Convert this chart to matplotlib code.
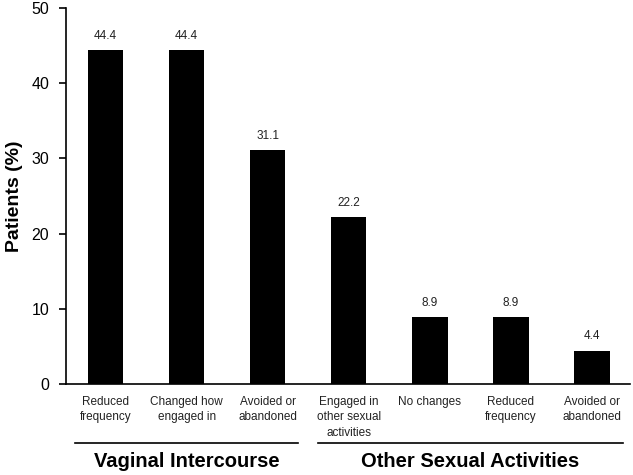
import matplotlib
matplotlib.use("Agg")
import matplotlib.pyplot as plt

categories = ["Reduced\nfrequency", "Changed how\nengaged in", "Avoided or\nabandoned",
              "Engaged in\nother sexual\nactivities", "No changes", "Reduced\nfrequency",
              "Avoided or\nabandoned"]
values = [44.4, 44.4, 31.1, 22.2, 8.9, 8.9, 4.4]
value_labels = ["44.4", "44.4", "31.1", "22.2", "8.9", "8.9", "4.4"]
groups = ["Vaginal Intercourse", "Other Sexual Activities"]
group_spans = [(0, 2), (3, 6)]
yticks = [0, 10, 20, 30, 40, 50]

plt.rcParams['font.family'] = ['Liberation Sans', 'DejaVu Sans']

fig = plt.figure(figsize=(6.33, 4.75), dpi=100)
ax = fig.add_axes([0.104, 0.192, 0.891, 0.791])

x = list(range(len(values)))
ax.bar(x, values, width=0.44, color="black")
for xi, v, lab in zip(x, values, value_labels):
    ax.text(xi, v + 1.1, lab, ha="center", va="bottom", fontsize=8.5, color="#222222")

ax.set_xlim(-0.49, 6.47)
ax.set_ylim(0, 50)
ax.set_yticks(yticks)
ax.tick_params(axis="y", labelsize=11.5, length=5, width=1.2, direction="out", pad=7)
ax.set_xticks(x)
ax.set_xticklabels(categories, fontsize=8.5, color="#222222", linespacing=1.35)
ax.tick_params(axis="x", length=0, pad=9)
for s in ["top", "right"]:
    ax.spines[s].set_visible(False)
for s in ["left", "bottom"]:
    ax.spines[s].set_linewidth(1.2)
ax.set_ylabel("Patients (%)", fontsize=14, fontweight="bold", labelpad=6)

trans = ax.get_xaxis_transform()
for g, (a, b) in zip(groups, group_spans):
    ax.plot([a - 0.38, b + 0.38], [-0.158, -0.158], color="black", lw=1.2,
            transform=trans, clip_on=False)
    ax.text((a + b) / 2, -0.208, g, ha="center", va="center", fontsize=14.5,
            fontweight="bold", transform=trans)

fig.savefig("out.png", dpi=100)
